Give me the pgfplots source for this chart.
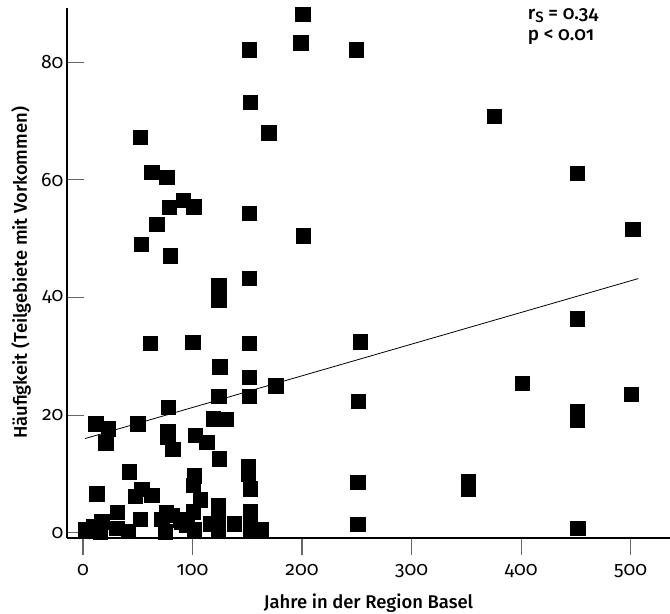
\documentclass[border=0pt]{standalone}
\usepackage{fontspec}
\setmainfont{Fira Sans}[Numbers=OldStyle, BoldFont={Fira Sans Medium}]
\usepackage{pgfplots}
\pgfplotsset{compat=1.18}

\begin{document}
\begin{tikzpicture}
\begin{axis}[
    scale only axis,
    width=603bp, height=530bp,
    xmin=-14.6, xmax=536,
    ymin=-0.9, ymax=89.2,
    axis x line=bottom, axis y line=left,
    axis line style={-, black, line width=1.2bp},
    xtick={0,100,...,500}, ytick={0,20,...,80},
    tick align=inside,
    major tick length=17bp,
    tick style={gray!80!black, line width=1.1bp},
    x tick style={yshift=-17bp},
    xticklabel style={yshift=-23bp},
    /pgf/number format/assume math mode=true,
    ticklabel style={font=\fontsize{19.5}{22}\selectfont},
    xlabel={Jahre in der Region Basel},
    ylabel={Häufigkeit (Teilgebiete mit Vorkommen)},
    every axis x label/.style={at={(axis description cs:0.5,0)}, anchor=center,
        yshift=-65bp, font=\fontsize{18.5}{22}\selectfont\bfseries},
    every axis y label/.style={at={(axis description cs:0,0.5)}, anchor=center,
        rotate=90, yshift=46bp, font=\fontsize{18.5}{22}\selectfont\bfseries},
    clip=false,
]
% Beobachtungen
\addplot[only marks, mark=square*, mark size=7.2bp, black] coordinates {
    (200.6,88.1) (198.8,83.3) (151.9,82.1) (249.3,82.1) (152.5,73.2)
    (169.6,68.0) (375.6,70.8) (451,61.1) (502,51.6) (201,50.5)
    (151.9,54.3) (151.6,43.3) (151.6,32.2) (253,32.5) (151.6,26.4)
    (176,25.0) (151.6,23.2) (251.5,22.4) (451,36.4) (401,25.4)
    (500.8,23.5) (451,20.6) (451,19.2) (352,8.7) (352,7.5)
    (451.7,0.75) (250.8,8.6) (250.8,1.4)
    (52,67.2) (62.7,61.3) (76.4,60.4) (91.6,56.5) (78.5,55.3)
    (101,55.4) (67.3,52.4) (53,49.0) (79.5,47.1) (123.9,42.0)
    (123.9,39.5) (61.2,32.2) (100,32.4) (124.8,28.2) (123.9,23.2)
    (77.9,21.3) (119,19.4) (130.6,19.3) (11.6,18.5) (23,17.7)
    (50,18.5) (20.7,15.3) (77.3,17.2) (77.3,16.2) (81.8,14.2)
    (102.3,16.6) (113,15.4) (124.5,12.6) (42,10.4)
    (12.5,6.6) (53.6,7.4) (47.5,6.2) (62.7,6.4) (31.3,3.5)
    (52,2.3) (75.8,3.5) (71.8,2.3) (81,3.0) (90,1.9)
    (1.8,0.6) (9.4,1.1) (17,1.9) (15.5,0.2) (30.7,0.75)
    (41.4,0.3) (75,0.2) (151,11.3) (151,10.0) (101.7,9.7)
    (100.8,8.1) (152.5,7.5) (107,5.6) (123.6,4.6) (100.8,3.6)
    (152.5,3.6) (88.6,2.2) (116,1.5) (123.6,2.2) (138,1.5)
    (152.5,1.6) (162.6,0.6) (101.4,0.5) (123.6,0.5) (152.5,0.3)
    (94.7,1.3)
};
% Regressionsgerade
\addplot[black, line width=0.8bp] coordinates {(1.8,16.0) (507,43.2)};

\node[anchor=north west, align=left, inner sep=0pt,
      font=\fontsize{19}{21}\selectfont\bfseries] at (axis cs:406,89.2)
    {r\raisebox{-0.3ex}{\fontsize{15}{15}\selectfont S} = 0.34\\p < 0.01};

\coordinate (bbsw) at ([shift={(-67bp,-76bp)}]rel axis cs:0,0);
\coordinate (bbne) at ([shift={(0bp,8bp)}]rel axis cs:1,1);
\end{axis}
\pgfresetboundingbox
\path (bbsw) rectangle (bbne);
\end{tikzpicture}
\end{document}
